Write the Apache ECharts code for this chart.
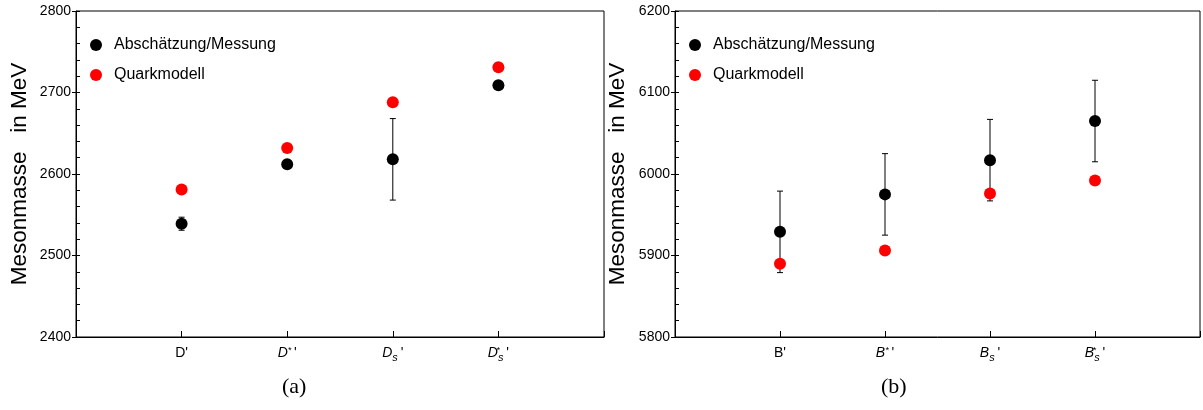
<!DOCTYPE html>
<html><head><meta charset="utf-8">
<script src="https://cdn.jsdelivr.net/npm/echarts@6/dist/echarts.min.js"></script>
<style>html,body{margin:0;padding:0;background:#fff}#c{width:1203px;height:410px}</style>
</head><body><div id="c"></div>
<script>
// ---- data ----
const labelsA = ["D'", "D*'", "D_s'", "D_s*'"];
const measA   = [2539, 2612, 2618, 2709];
const errA    = [8, 4, 50, 0];
const modelA  = [2581, 2632, 2688, 2731];

const labelsB = ["B'", "B*'", "B_s'", "B_s*'"];
const measB   = [5929, 5975, 6017, 6065];
const errB    = [50, 50, 50, 50];
const modelB  = [5890, 5906, 5976, 5992];

const yTicksA = [2400, 2500, 2600, 2700, 2800];
const yTicksB = [5800, 5900, 6000, 6100, 6200];

const nameMeas = 'Abschätzung/Messung';
const nameModel = 'Quarkmodell';
const yTitle = 'Mesonmasse   in MeV';

// ---- helpers ----
const FONT = '"Liberation Sans", Arial, sans-serif';
function richLabel(s) {
  const letter = s[0];
  const star = s.indexOf('*') >= 0;
  const sub = s.indexOf('_s') >= 0;
  if (!star && !sub) return '{n|' + s + '}';
  let out = '{i|' + letter + '}';
  if (star && sub) out += '{st0|*}{sub|s}';
  else if (star) out += '{sup|*}';
  else out += '{sub|s}';
  out += '{n|\u2009\'}';
  return out;
}
const rich = {
  n: {fontSize: 14, fontFamily: FONT, color: '#000', lineHeight: 20, verticalAlign: 'middle'},
  i: {fontSize: 14, fontFamily: FONT, fontStyle: 'italic', color: '#000', lineHeight: 20, verticalAlign: 'middle'},
  sup: {fontSize: 9, fontFamily: FONT, fontStyle: 'italic', color: '#000', lineHeight: 20, verticalAlign: 'top', padding: [3, 0, 0, 0]},
  st0: {fontSize: 9, fontFamily: FONT, fontStyle: 'italic', color: '#000', lineHeight: 20, verticalAlign: 'top', width: 0, padding: [3, 0, 0, 0]},
  sub: {fontSize: 11, fontFamily: FONT, fontStyle: 'italic', color: '#000', lineHeight: 20, verticalAlign: 'bottom', padding: [0, 0, 0, 0]}
};

function xAxisFor(gi, labels) {
  return {
    gridIndex: gi, type: 'value', min: 0, max: labels.length + 1, interval: 1,
    axisLine: {show: true, lineStyle: {color: '#000', width: 1}},
    axisTick: {show: true, inside: true, length: 6, lineStyle: {color: '#000'}},
    splitLine: {show: false},
    axisLabel: {
      margin: 6, rich: rich,
      formatter: v => (v >= 1 && v <= labels.length) ? richLabel(labels[v - 1]) : ''
    }
  };
}
function yAxesFor(gi, ticks, gap) {
  const min = ticks[0], max = ticks[ticks.length - 1];
  return [{
    gridIndex: gi, type: 'value', position: 'left', min: min, max: max, interval: ticks[1] - ticks[0],
    name: yTitle, nameLocation: 'middle', nameRotate: 90, nameGap: gap,
    nameTextStyle: {fontSize: 22.5, fontFamily: FONT, color: '#000'},
    axisLine: {show: true, lineStyle: {color: '#000', width: 1}},
    axisTick: {show: true, inside: false, length: 4, lineStyle: {color: '#000'}},
    axisLabel: {fontSize: 14, fontFamily: FONT, color: '#000', margin: 5, formatter: v => String(v)},
    splitLine: {show: false}
  }, {
    gridIndex: gi, type: 'value', position: 'left', min: min, max: max, interval: (ticks[1] - ticks[0]) / 5,
    axisLine: {show: false},
    axisTick: {show: true, inside: true, length: 4, lineStyle: {color: '#000'}},
    axisLabel: {show: false},
    splitLine: {show: false}
  }];
}
function errSeries(xi, yi, meas, err) {
  return {
    type: 'custom', xAxisIndex: xi, yAxisIndex: yi, z: 1, silent: true,
    data: meas.map((v, k) => [k + 1, v, err[k]]),
    renderItem: (params, api) => {
      const e = api.value(2);
      if (!e) return null;
      const x = api.value(0), y = api.value(1);
      const top = api.coord([x, y + e]);
      const bot = api.coord([x, y - e]);
      const st = {stroke: '#000', lineWidth: 1};
      const cap = 3;
      return {type: 'group', children: [
        {type: 'line', shape: {x1: top[0], y1: top[1], x2: bot[0], y2: bot[1]}, style: st},
        {type: 'line', shape: {x1: top[0] - cap, y1: top[1], x2: top[0] + cap, y2: top[1]}, style: st},
        {type: 'line', shape: {x1: bot[0] - cap, y1: bot[1], x2: bot[0] + cap, y2: bot[1]}, style: st}
      ]};
    }
  };
}
function scatter(name, color, xi, yi, vals) {
  return {
    name: name, type: 'scatter', xAxisIndex: xi, yAxisIndex: yi, z: 3,
    symbol: 'circle', symbolSize: 12, itemStyle: {color: color, opacity: 1},
    data: vals.map((v, k) => [k + 1, v])
  };
}
function legendFor(left) {
  return {
    left: left, top: 32, orient: 'vertical', itemGap: 14, itemWidth: 24, itemHeight: 12,
    icon: 'circle', selectedMode: false,
    textStyle: {fontSize: 16, fontFamily: FONT, color: '#000', padding: [0, 0, 0, 1]},
    data: [nameMeas, nameModel]
  };
}

const chart = echarts.init(document.getElementById('c'), null, {renderer: 'canvas'});
chart.setOption({
  animation: false,
  backgroundColor: '#fff',
  color: ['#000', '#ff0000'],
  grid: [
    {left: 76, top: 11, width: 528, height: 326, show: true, borderColor: '#000', borderWidth: 1, backgroundColor: 'transparent'},
    {left: 675, top: 11, width: 526, height: 326, show: true, borderColor: '#000', borderWidth: 1, backgroundColor: 'transparent'}
  ],
  legend: [legendFor(85), legendFor(684)],
  xAxis: [xAxisFor(0, labelsA), xAxisFor(1, labelsB)],
  yAxis: [...yAxesFor(0, yTicksA, 45), ...yAxesFor(1, yTicksB, 46)],
  graphic: [
    {type: 'text', left: 282, top: 376, style: {text: '(a)', fontSize: 22, fontFamily: '"Liberation Serif", "DejaVu Serif", serif', fill: '#000'}},
    {type: 'text', left: 881, top: 376, style: {text: '(b)', fontSize: 22, fontFamily: '"Liberation Serif", "DejaVu Serif", serif', fill: '#000'}}
  ],
  series: [
    errSeries(0, 0, measA, errA),
    scatter(nameMeas, '#000', 0, 0, measA),
    scatter(nameModel, '#ff0000', 0, 0, modelA),
    errSeries(1, 2, measB, errB),
    scatter(nameMeas, '#000', 1, 2, measB),
    scatter(nameModel, '#ff0000', 1, 2, modelB)
  ]
});
</script>
</body></html>
